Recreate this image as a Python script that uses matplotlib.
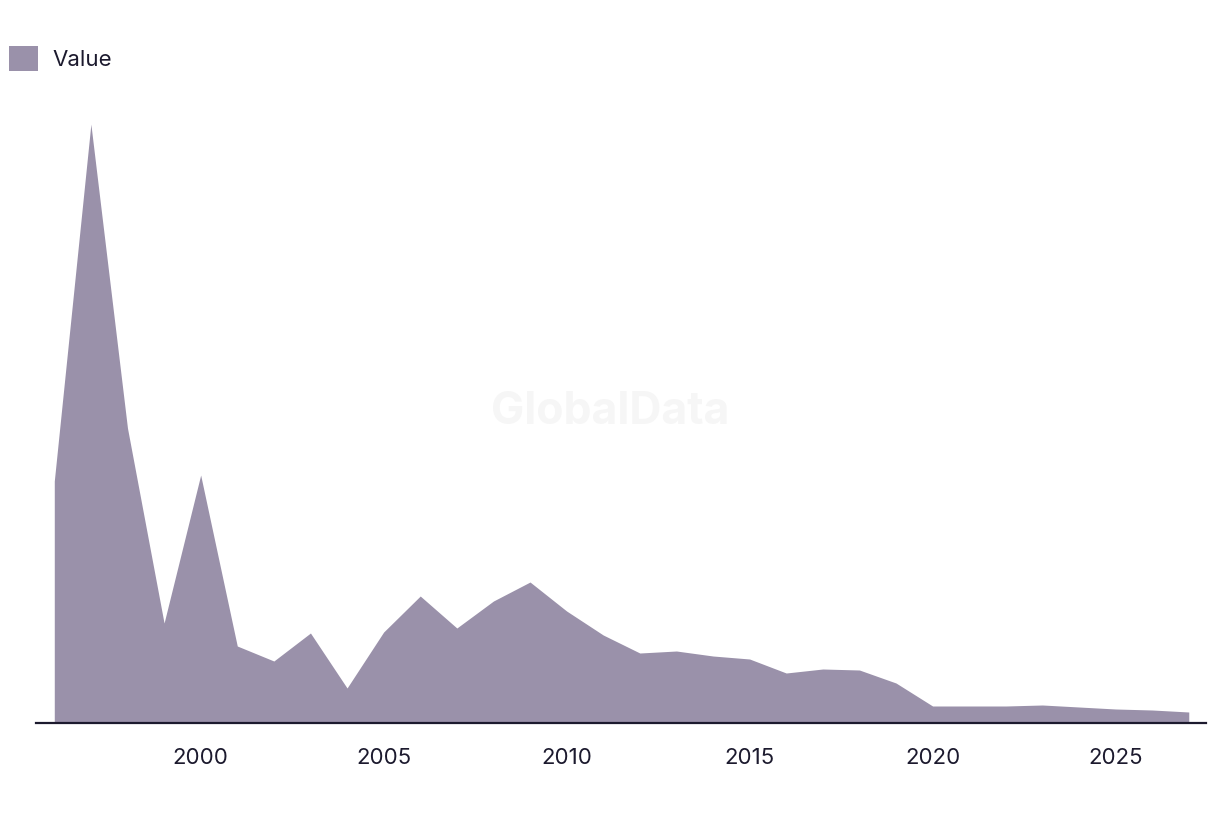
import matplotlib.pyplot as plt
from matplotlib.patches import Patch

plt.rcParams['font.family'] = ['Inter', 'DejaVu Sans']

years = list(range(1996, 2028))
values = [242, 599, 295, 100, 248, 77, 62, 90, 35, 91,
          127, 95, 122, 141, 112, 88, 70, 72, 67, 64,
          50, 54, 53, 40, 17, 17, 17, 18, 16, 14,
          13, 11]
xticks = [2000, 2005, 2010, 2015, 2020, 2025]

fill_color = "#9a91aa"
text_color = "#1c1a2e"

fig = plt.figure(figsize=(12.2, 8.14), dpi=100)
ax = fig.add_axes([0.0295, 0.1118, 0.959, 0.7652])

ax.fill_between(years, values, 0, color=fill_color, linewidth=0)

ax.set_xlim(1995.5, 2027.47)
ax.set_ylim(0, 623)

for side in ["left", "right", "top"]:
    ax.spines[side].set_visible(False)
ax.spines["bottom"].set_color(text_color)
ax.spines["bottom"].set_linewidth(1.6)

ax.set_yticks([])
ax.set_xticks(xticks)
ax.set_xticklabels([str(x) for x in xticks])
ax.tick_params(axis="x", length=0, pad=18, labelsize=16, labelcolor=text_color)

# watermark
fig.text(0.5, 0.494, "GlobalData", ha="center", va="center", fontsize=32,
         fontweight="bold", color="#f6f6f6", zorder=0)

handle = Patch(facecolor=fill_color, edgecolor="none", label="Value")
fig.legend(handles=[handle], loc="upper left", bbox_to_anchor=(0.0005, 0.954),
           frameon=False, fontsize=16, handlelength=1.3, handleheight=1.3,
           handletextpad=0.65, borderaxespad=0, labelcolor=text_color)

fig.savefig("out.png", dpi=100)
